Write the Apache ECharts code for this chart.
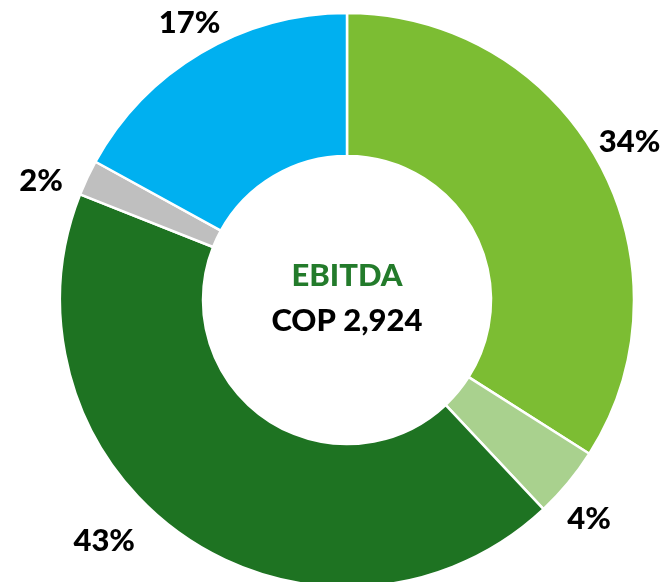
<!DOCTYPE html>
<html>
<head>
<meta charset="utf-8">
<style>
  html, body { margin: 0; padding: 0; background: #ffffff; }
  #chart { width: 664px; height: 582px; }
</style>
<script src="https://cdn.jsdelivr.net/npm/echarts@6/dist/echarts.min.js"></script>
</head>
<body>
<div id="chart"></div>
<script>
// EBITDA breakdown (share of total, %)
const categories = ['Segment A', 'Segment B', 'Segment C', 'Segment D', 'Segment E'];
const shares = [34, 4, 43, 2, 17];
const sliceColors = ['#7CBD33', '#A9D18E', '#1E7322', '#BFBFBF', '#00B0F0'];
const centerTitle = 'EBITDA';
const centerValue = 'COP 2,924';

const FONT = 'Lato, "Open Sans", sans-serif';
const CX = 347, CY = 300;

const chart = echarts.init(document.getElementById('chart'), null, { renderer: 'canvas' });

const ringData = categories.map((name, i) => ({
  name,
  value: shares[i],
  itemStyle: { color: sliceColors[i] }
}));

// Small nudges for percentage labels that sit close to neighbours or the edge
const labelNudges = [[-4, 0], [-10, 11], [2, -1], [-10, 20], [9, 4]];

// Transparent ring that only carries the percentage labels outside the donut
const labelData = categories.map((name, i) => ({
  name,
  value: shares[i],
  label: { offset: i === 2 ? [-59, -29] : labelNudges[i] }
}));

chart.setOption({
  animation: false,
  series: [
    {
      type: 'pie',
      center: [CX, CY],
      radius: [144, 287],
      startAngle: 90,
      clockwise: true,
      silent: true,
      itemStyle: { borderColor: '#ffffff', borderWidth: 2.5 },
      label: { show: false },
      labelLine: { show: false },
      data: ringData
    },
    {
      type: 'pie',
      center: [CX, CY],
      radius: [302, 346],
      startAngle: 90,
      clockwise: true,
      silent: true,
      itemStyle: { color: 'rgba(0,0,0,0)' },
      label: {
        show: true,
        position: 'inside',
        formatter: p => p.value + '%',
        color: '#000000',
        fontFamily: FONT,
        fontWeight: 900,
        fontSize: 31
      },
      labelLine: { show: false },
      data: labelData
    }
  ],
  graphic: [
    {
      type: 'text',
      style: {
        x: CX, y: 276,
        text: centerTitle,
        textAlign: 'center',
        textVerticalAlign: 'middle',
        fill: '#237B2B',
        font: '900 31px ' + FONT
      }
    },
    {
      type: 'text',
      style: {
        x: CX, y: 321,
        text: centerValue,
        textAlign: 'center',
        textVerticalAlign: 'middle',
        fill: '#000000',
        font: '900 31px ' + FONT
      }
    }
  ]
});
</script>
</body>
</html>
